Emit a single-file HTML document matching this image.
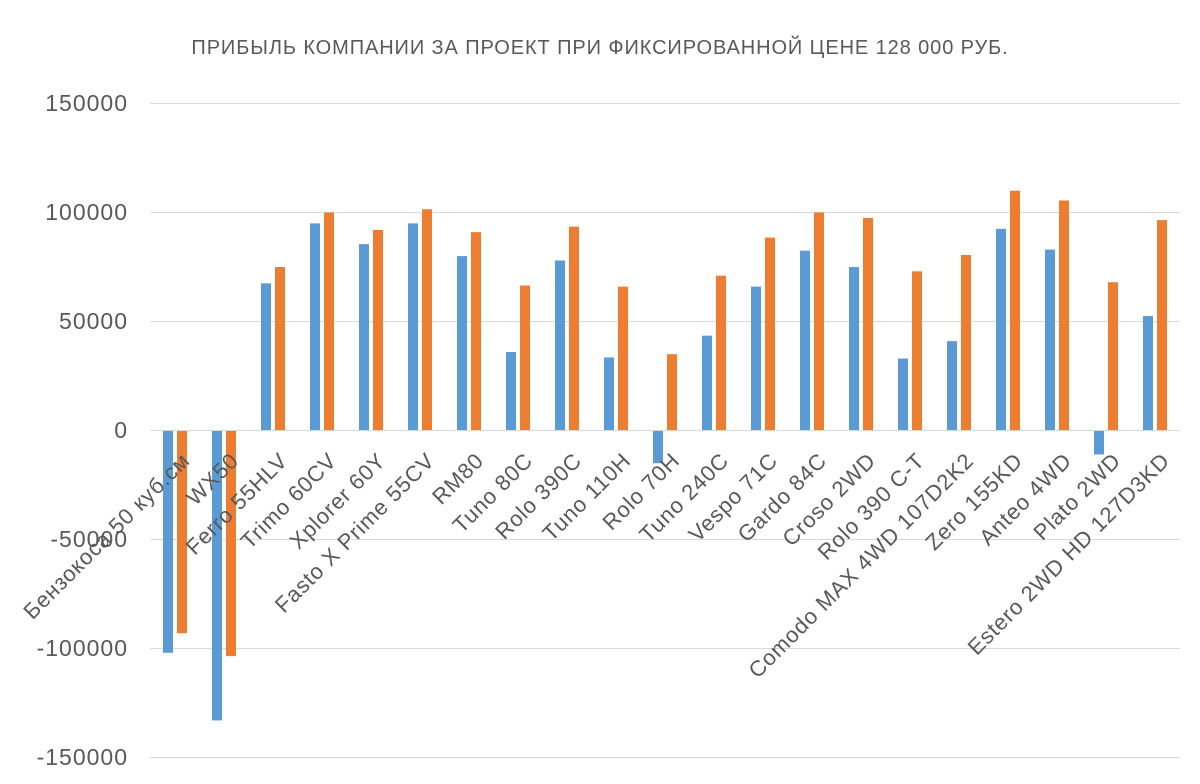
<!DOCTYPE html>
<html><head><meta charset="utf-8"><style>
html,body{margin:0;padding:0;background:#fff;}
svg{display:block;font-family:"Liberation Sans","DejaVu Sans",sans-serif;}
</style></head><body>
<svg width="1200" height="784" viewBox="0 0 1200 784">
<rect width="1200" height="784" fill="#fff"/>
<text x="600" y="54" text-anchor="middle" font-size="20" fill="#595959" letter-spacing="0.9">ПРИБЫЛЬ КОМПАНИИ ЗА ПРОЕКТ ПРИ ФИКСИРОВАННОЙ ЦЕНЕ 128 000 РУБ.</text>
<g stroke="#d9d9d9" stroke-width="1">
<line x1="150" x2="1180" y1="103.5" y2="103.5"/>
<line x1="150" x2="1180" y1="212.5" y2="212.5"/>
<line x1="150" x2="1180" y1="321.5" y2="321.5"/>
<line x1="150" x2="1180" y1="539.5" y2="539.5"/>
<line x1="150" x2="1180" y1="648.5" y2="648.5"/>
<line x1="150" x2="1180" y1="757.5" y2="757.5"/>
</g>
<g font-size="23" fill="#595959" text-anchor="end" letter-spacing="1">
<text x="128" y="111">150000</text>
<text x="128" y="220">100000</text>
<text x="128" y="329">50000</text>
<text x="128" y="438">0</text>
<text x="128" y="547">-50000</text>
<text x="128" y="656">-100000</text>
<text x="128" y="765">-150000</text>
</g>
<g id="bars"></g>
<line x1="150" x2="1180" y1="430.5" y2="430.5" stroke="#d9d9d9"/>
<g id="labels" font-size="22" fill="#595959" text-anchor="end" letter-spacing="0.8"></g>
<script>
var names=["Бензокоса 50 куб.см","WX50","Ferro 55HLV","Trimo 60CV","Xplorer 60Y","Fasto X Prime 55CV","RM80","Tuno 80C","Rolo 390C","Tuno 110H","Rolo 70H","Tuno 240C","Vespo 71C","Gardo 84C","Croso 2WD","Rolo 390 C-T","Comodo MAX 4WD 107D2K2","Zero 155KD","Anteo 4WD","Plato 2WD","Estero 2WD HD 127D3KD"];
var b=[-102000,-133000,67500,95000,85500,95000,80000,36000,78000,33500,-15000,43500,66000,82500,75000,33000,41000,92500,83000,-11000,52500];
var o=[-93000,-103500,75000,100000,92000,101500,91000,66500,93500,66000,35000,71000,88500,100000,97500,73000,80500,110000,105500,68000,96500];
var ns="http://www.w3.org/2000/svg",gb=document.getElementById("bars"),gl=document.getElementById("labels");
function y(v){return 430.5-v/50000*109;}
function r(x,v,c){var e=document.createElementNS(ns,"rect");var y0=Math.min(y(v),430.5),h=Math.abs(y(v)-430.5);e.setAttribute("x",x);e.setAttribute("y",y0);e.setAttribute("width",10);e.setAttribute("height",h);e.setAttribute("fill",c);gb.appendChild(e);}
for(var i=0;i<21;i++){var c=150.5+(i+0.5)*49;r(c-12,b[i],"#5b9bd5");r(c+2,o[i],"#ed7d31");
var t=document.createElementNS(ns,"text");var tx=c+16,ty=462;t.setAttribute("x",tx);t.setAttribute("y",ty);t.setAttribute("transform","rotate(-45 "+tx+" "+ty+")");t.textContent=names[i];gl.appendChild(t);}
</script>
</svg>
</body></html>
